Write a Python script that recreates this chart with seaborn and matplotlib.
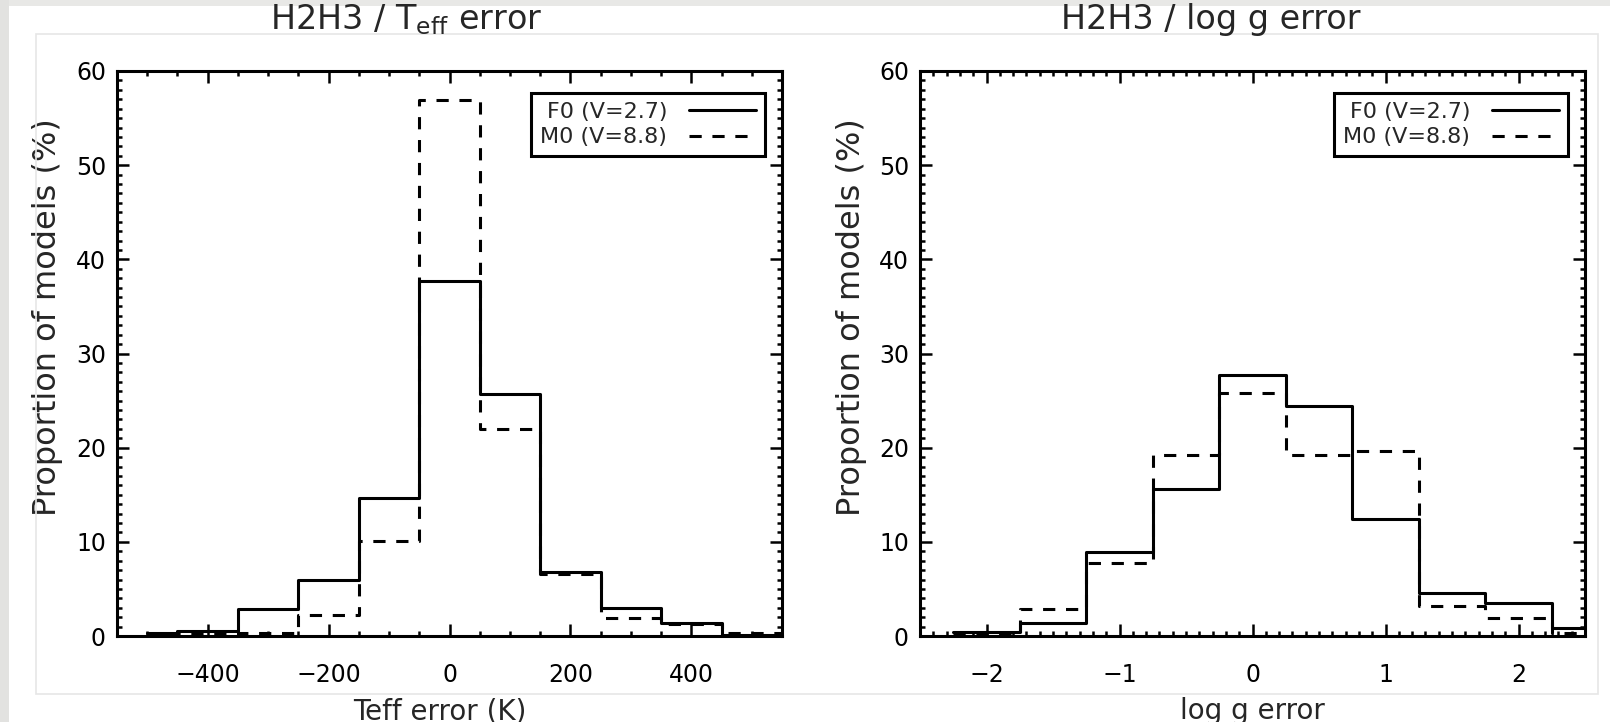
import numpy as np
import pandas as pd
import matplotlib
matplotlib.use('Agg')
import matplotlib.pyplot as plt
import seaborn as sns
from matplotlib.lines import Line2D
from matplotlib.patches import Rectangle
from matplotlib.ticker import MultipleLocator

# Histogram values (percent of models)
teff_edges = [-500, -450, -350, -250, -150, -50, 50, 150, 250, 350, 450, 550]
teff_f0 = [0.3, 0.55, 2.9, 5.9, 14.7, 37.7, 25.7, 6.8, 3.0, 1.4, 0.1]
teff_m0 = [0.0, 0.2, 0.35, 2.2, 10.1, 56.9, 22.0, 6.6, 1.9, 1.3, 0.3]

logg_edges = [-2.25, -1.75, -1.25, -0.75, -0.25, 0.25, 0.75, 1.25, 1.75, 2.25, 2.5]
logg_f0 = [0.4, 1.4, 8.9, 15.6, 27.7, 24.4, 12.4, 4.6, 3.5, 0.8]
logg_m0 = [0.2, 2.9, 7.7, 19.2, 25.8, 19.2, 19.6, 3.2, 1.9, 0.3]

series_labels = ['F0 (V=2.7)', 'M0 (V=8.8)']

sns.set_theme(style='ticks')
plt.rcParams['font.family'] = ['DejaVu Sans']
plt.rcParams['mathtext.default'] = 'regular'
plt.rcParams['xtick.major.pad'] = 19.5
plt.rcParams['ytick.major.pad'] = 8

W, H = 1610, 722
fig = plt.figure(figsize=(W / 100, H / 100), dpi=100)
fig.patch.set_facecolor('white')

# screenshot-like page border
fig.patches.append(Rectangle((0, 1 - 6 / H), 1, 6 / H, transform=fig.transFigure,
                             facecolor='#e8e8e6', edgecolor='none', zorder=0))
fig.patches.append(Rectangle((0, 0), 9 / W, 1, transform=fig.transFigure,
                             facecolor='#e2e2e0', edgecolor='none', zorder=0))
fig.patches.append(Rectangle((36 / W, 1 - 694 / H), (1598 - 36) / W, (694 - 34) / H,
                             transform=fig.transFigure, facecolor='none',
                             edgecolor='#e6e6e6', linewidth=1.2, zorder=0))

dash = (0, (4, 3.5))
lw = 2.2


def draw_panel(rect, edges, f0, m0, xlim, xmaj, xmin, xlabel):
    ax = fig.add_axes(rect)
    e = np.array(edges, dtype=float)
    df = pd.DataFrame({'center': (e[:-1] + e[1:]) / 2, 'f0': f0, 'm0': m0})
    sns.histplot(data=df, x='center', weights='f0', bins=list(edges), element='step',
                 fill=False, color='black', linewidth=lw, ax=ax)
    sns.histplot(data=df, x='center', weights='m0', bins=list(edges), element='step',
                 fill=False, color='black', linewidth=lw, linestyle=dash, ax=ax)
    ax.set_xlim(xlim)
    ax.set_ylim(0, 60)
    ax.xaxis.set_major_locator(MultipleLocator(xmaj))
    ax.xaxis.set_minor_locator(MultipleLocator(xmin))
    ax.yaxis.set_major_locator(MultipleLocator(10))
    ax.yaxis.set_minor_locator(MultipleLocator(1))
    ax.tick_params(which='both', direction='in', top=True, right=True,
                   colors='black', width=1.8)
    ax.tick_params(which='major', length=8.5, labelsize=17)
    ax.tick_params(which='minor', length=3.6)
    ax.tick_params(axis='x', which='major', pad=19.5)
    ax.tick_params(axis='y', which='major', pad=8)
    for s in ax.spines.values():
        s.set_linewidth(2.2)
        s.set_color('black')
    ax.set_xlabel(xlabel, fontsize=20)
    ax.set_ylabel('Proportion of models (%)', fontsize=23)
    ax.grid(False)
    handles = [Line2D([], [], color='black', lw=lw),
               Line2D([], [], color='black', lw=lw, linestyle=dash)]
    leg = ax.legend(handles, series_labels, loc='upper right',
                    bbox_to_anchor=(1 - 17 / 665, 1 - 22 / 565), borderaxespad=0,
                    markerfirst=False, fancybox=False, framealpha=1,
                    edgecolor='black', fontsize=16, handlelength=3.0,
                    handletextpad=1.0, labelspacing=0.25, borderpad=0.4)
    leg.get_frame().set_linewidth(2.2)
    return ax


ax1 = draw_panel([117 / W, 1 - 636 / H, 665 / W, 565 / H], teff_edges, teff_f0, teff_m0,
                 (-550, 550), 200, 50, 'Teff error (K)')
ax1.yaxis.set_label_coords(-0.081, 0.564)
ax1.xaxis.set_label_coords(0.486, -0.108)

ax2 = draw_panel([920 / W, 1 - 636 / H, 665 / W, 565 / H], logg_edges, logg_f0, logg_m0,
                 (-2.5, 2.5), 1, 0.1, 'log g error')
ax2.yaxis.set_label_coords(-0.079, 0.564)
ax2.xaxis.set_label_coords(0.5, -0.108)

fig.text(406 / W, 1 - 20 / H, r'H2H3 / T$_{\rm eff}$ error', ha='center', va='center', fontsize=24)
fig.text(1211 / W, 1 - 20 / H, 'H2H3 / log g error', ha='center', va='center', fontsize=24)

fig.savefig('out.png', dpi=100)
